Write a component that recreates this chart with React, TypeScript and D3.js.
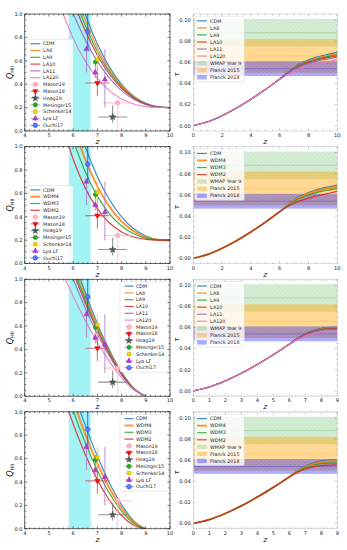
import React from "react";
import * as d3 from "d3";

// ---------------- data ----------------
// Q_HII(z) curves, z in [4,10] panels
const zQ10 = [5.5, 6.0, 6.5, 7.0, 7.5, 8.0, 8.5, 9.0, 9.5, 10.0];
const qCDM10 = [1.68, 1.305, 0.996, 0.743, 0.546, 0.399, 0.298, 0.236, 0.206, 0.2];
const qLA8_10 = [1.589, 1.238, 0.947, 0.71, 0.525, 0.387, 0.292, 0.234, 0.206, 0.2];
const qLA9_10 = [1.503, 1.173, 0.901, 0.678, 0.505, 0.376, 0.286, 0.232, 0.206, 0.2];
const qLA10_10 = [1.421, 1.112, 0.856, 0.648, 0.485, 0.365, 0.281, 0.23, 0.205, 0.2];
const qLA11_10 = [1.277, 1.004, 0.779, 0.595, 0.452, 0.345, 0.271, 0.226, 0.205, 0.2];
const qLA120_10 = [1.045, 0.793, 0.597, 0.45, 0.345, 0.274, 0.231, 0.209, 0.201, 0.2];
const qWDM4_10 = [1.542, 1.181, 0.891, 0.66, 0.486, 0.36, 0.277, 0.227, 0.204, 0.2];
const qWDM3_10 = [1.404, 1.057, 0.785, 0.577, 0.426, 0.322, 0.255, 0.218, 0.203, 0.2];
const qWDM2_10 = [1.22, 0.892, 0.645, 0.467, 0.347, 0.27, 0.227, 0.207, 0.2007, 0.2];

// Q_HII(z) curves ending at z = 9
const zQ9 = [5.5, 6.0, 6.5, 7.0, 7.5, 8.0, 8.5, 9.0];
const qCDM9 = [1.51, 1.18, 0.884, 0.62, 0.392, 0.206, 0.068, 0];
const qLA8_9 = [1.458, 1.141, 0.855, 0.601, 0.38, 0.2, 0.066, 0];
const qLA9_9 = [1.407, 1.102, 0.827, 0.581, 0.369, 0.195, 0.065, 0];
const qLA10_9 = [1.355, 1.063, 0.798, 0.562, 0.357, 0.189, 0.063, 0];
const qLA11_9 = [1.274, 1.001, 0.753, 0.531, 0.339, 0.18, 0.061, 0];
const qLA120_9 = [1.08, 0.854, 0.646, 0.459, 0.296, 0.159, 0.055, 0];
const qWDM4_9 = [1.416, 1.095, 0.81, 0.559, 0.347, 0.178, 0.057, 0];
const qWDM3_9 = [1.322, 1.01, 0.735, 0.499, 0.303, 0.151, 0.046, 0];
const qWDM2_9 = [1.197, 0.896, 0.636, 0.418, 0.243, 0.114, 0.031, 0];

// optical depth tau(z)
const zTau10 = [0, 1, 2, 3, 4, 5, 5.5, 6, 6.5, 7, 7.5, 8, 8.5, 9, 9.5, 10];
const tCDM10 = [0, 0.0037, 0.0095, 0.0167, 0.025, 0.0342, 0.0391, 0.0442, 0.05, 0.0553, 0.0593, 0.0623, 0.0646, 0.0664, 0.0679, 0.0694];
const tLA8_10 = [0, 0.0037, 0.0095, 0.0167, 0.025, 0.0342, 0.0391, 0.0442, 0.0497, 0.0548, 0.0586, 0.0615, 0.0637, 0.0654, 0.0668, 0.0683];
const tLA9_10 = [0, 0.0037, 0.0095, 0.0167, 0.025, 0.0342, 0.0391, 0.0442, 0.0495, 0.0543, 0.0579, 0.0607, 0.0628, 0.0644, 0.0658, 0.0671];
const tLA10_10 = [0, 0.0037, 0.0095, 0.0167, 0.025, 0.0342, 0.0391, 0.0442, 0.0492, 0.0539, 0.0573, 0.0599, 0.0619, 0.0635, 0.0648, 0.0661];
const tLA11_10 = [0, 0.0037, 0.0095, 0.0167, 0.025, 0.0342, 0.0391, 0.0442, 0.049, 0.0533, 0.0566, 0.059, 0.0609, 0.0624, 0.0636, 0.0649];
const tLA120_10 = [0, 0.0037, 0.0095, 0.0167, 0.025, 0.0342, 0.0391, 0.0438, 0.0478, 0.0512, 0.0538, 0.056, 0.0578, 0.0594, 0.0609, 0.0624];
const tWDM4_10 = [0, 0.0037, 0.0095, 0.0167, 0.025, 0.0342, 0.0391, 0.0442, 0.0497, 0.0546, 0.0584, 0.0612, 0.0634, 0.0651, 0.0665, 0.0679];
const tWDM3_10 = [0, 0.0037, 0.0095, 0.0167, 0.025, 0.0342, 0.0391, 0.0441, 0.0492, 0.0539, 0.0573, 0.0599, 0.0619, 0.0635, 0.0648, 0.0661];
const tWDM2_10 = [0, 0.0037, 0.0095, 0.0167, 0.025, 0.0342, 0.0391, 0.044, 0.0485, 0.0521, 0.0548, 0.057, 0.0588, 0.0603, 0.0618, 0.0633];

const zTau9 = [0, 1, 2, 3, 4, 5, 5.5, 6, 6.5, 7, 7.5, 8, 8.5, 9];
const tCDM9 = [0, 0.0037, 0.0095, 0.0167, 0.025, 0.0342, 0.0391, 0.0442, 0.0497, 0.0542, 0.0573, 0.0592, 0.0601, 0.0603];
const tLA8_9 = [0, 0.0037, 0.0095, 0.0167, 0.025, 0.0342, 0.0391, 0.0442, 0.0496, 0.0538, 0.0569, 0.0588, 0.0597, 0.0599];
const tLA9_9 = [0, 0.0037, 0.0095, 0.0167, 0.025, 0.0342, 0.0391, 0.0442, 0.0494, 0.0536, 0.0566, 0.0583, 0.0592, 0.0594];
const tLA10_9 = [0, 0.0037, 0.0095, 0.0167, 0.025, 0.0342, 0.0391, 0.0442, 0.0493, 0.0533, 0.0562, 0.0579, 0.0588, 0.059];
const tLA11_9 = [0, 0.0037, 0.0095, 0.0167, 0.025, 0.0342, 0.0391, 0.0442, 0.0491, 0.0529, 0.0556, 0.0574, 0.0582, 0.0583];
const tLA120_9 = [0, 0.0037, 0.0095, 0.0167, 0.025, 0.0342, 0.0391, 0.044, 0.0484, 0.0517, 0.054, 0.0555, 0.0562, 0.0564];
const tWDM4_9 = [0, 0.0037, 0.0095, 0.0167, 0.025, 0.0342, 0.0391, 0.0442, 0.0493, 0.0534, 0.0562, 0.0579, 0.0587, 0.0588];
const tWDM3_9 = [0, 0.0037, 0.0095, 0.0167, 0.025, 0.0342, 0.0391, 0.0441, 0.0489, 0.0526, 0.0551, 0.0566, 0.0572, 0.0574];
const tWDM2_9 = [0, 0.0037, 0.0095, 0.0167, 0.025, 0.0342, 0.0391, 0.044, 0.0484, 0.0516, 0.0536, 0.0548, 0.0553, 0.0554];

const laNames = ["CDM", "LA8", "LA9", "LA10", "LA11", "LA120"];
const wdmNames = ["CDM", "WDM4", "WDM3", "WDM2"];

// observational constraints
const obsLabels = ["Mason19", "Mason18", "Hoag19", "Mesinger15", "Schenker14", "Lyα LF", "Ouchi17"];
const obsZ = [[7.84], [7.0], [7.63], [6.92], [7.0], [6.55, 6.91, 7.31], [6.6]];
const obsQ = [[0.24], [0.41], [0.12], [0.59], [0.61], [0.7, 0.5, 0.44], [0.85]];
const obsZErr = [[0.6], [0.5], [0.6], [0], [0], [0, 0, 0], [0]];
const obsQErrLo = [[0.22], [0.11], [0.05], [0.04], [0.11], [0.2, 0.05, 0.24], [0.15]];
const obsQErrHi = [[0], [0.15], [0.1], [0.04], [0.09], [0.03, 0.05, 0.26], [0.15]];

// CMB optical depth constraints
const cmbLabels = ["WMAP Year 9", "Planck 2015", "Planck 2018"];
const cmbTau = [0.088, 0.066, 0.054];
const cmbErr = [0.013, 0.016, 0.007];

// end of reionization band (z)
const reionBand = [5.82, 6.72];

// ---------------- styles ----------------
const laColors = ["#1f77b4", "#ff7f0e", "#2ca02c", "#d62728", "#9467bd", "#e377c2"];
const wdmColors = ["#1f77b4", "#ff7f0e", "#2ca02c", "#d62728"];
const wdmWidths = [1.2, 1.9, 1.2, 1.2];
const obsStyle = [
  { shape: "circle", fill: "#ffb3c4", stroke: "#ff9db3", err: "#ffb6c8", size: 17 },
  { shape: "tri_down", fill: "#ee1111", stroke: "#cc0000", err: "#d04848", size: 12 },
  { shape: "star", fill: "#555555", stroke: "#444444", err: "#707070", size: 14 },
  { shape: "hex", fill: "#22aa22", stroke: "#118811", err: "#44aa44", size: 14 },
  { shape: "square", fill: "#f2d40c", stroke: "#c9a400", err: "#e6c95a", size: 12 },
  { shape: "tri_up", fill: "#b43ccf", stroke: "#9a2ab8", err: "#a874c8", size: 12 },
  { shape: "circle", fill: "#5d7cff", stroke: "#1f2ff0", err: "#2040ff", size: 16 },
];
const cmbColors = ["#2ca02c", "#ffa500", "#0000ff"];
const cmbOpac = [0.2, 0.42, 0.3];

const W = 347;
const H = 550;
const rowTop = [14, 146.6, 279.2, 411.8];
const panelH = 117;
const LX0 = 24.8, LX1 = 170;
const RX0 = 193.3, RX1 = 337.3;
const FONT = "DejaVu Sans, sans-serif";
const tickFs = 5.1;
const legFs = 4.8;

function markerPath(shape: string, size: number): string {
  if (shape === "circle") return d3.symbol(d3.symbolCircle, size)() as string;
  if (shape === "tri_up" || shape === "tri_down") return d3.symbol(d3.symbolTriangle, size)() as string;
  if (shape === "star") return d3.symbol(d3.symbolStar, size)() as string;
  if (shape === "square") return d3.symbol(d3.symbolSquare, size)() as string;
  const r = Math.sqrt(size / 2.6);
  const pts = d3.range(6).map((i) => {
    const a = (Math.PI / 3) * i + Math.PI / 6;
    return [r * Math.cos(a), r * Math.sin(a)];
  });
  return "M" + pts.map((p) => p.join(",")).join("L") + "Z";
}

function Marker({ x, y, st }: any) {
  const rot = st.shape === "tri_down" ? 180 : 0;
  return (
    <path
      d={markerPath(st.shape, st.size)}
      transform={`translate(${x},${y}) rotate(${rot})`}
      fill={st.fill}
      stroke={st.stroke}
      strokeWidth={0.5}
    />
  );
}

type LegItem = { label: string; kind: string; color?: string; width?: number; st?: any; band?: number };

function Legend({ x, y, w, items, spacing, lineX0, lineX1, textX }: any) {
  const h = items.length * spacing + 2;
  return (
    <g>
      <rect x={x} y={y} width={w} height={h} rx={1.5} fill="#ffffff" fillOpacity={0.8} stroke="#d6d6d6" strokeWidth={0.5} />
      {items.map((it: LegItem, i: number) => {
        const cy = y + 1 + spacing * (i + 0.5);
        const lx0 = x + lineX0, lx1 = x + lineX1;
        let handle: any = null;
        if (it.kind === "line") {
          handle = <line x1={lx0} x2={lx1} y1={cy} y2={cy} stroke={it.color} strokeWidth={it.width || 1.2} strokeOpacity={0.85} />;
        } else if (it.kind === "marker") {
          handle = (
            <g>
              <line x1={lx0} x2={lx1} y1={cy} y2={cy} stroke={it.st.err} strokeWidth={1} strokeOpacity={0.6} />
              <line x1={(lx0 + lx1) / 2} x2={(lx0 + lx1) / 2} y1={cy - 2.5} y2={cy + 2.5} stroke={it.st.err} strokeWidth={1} strokeOpacity={0.6} />
              <Marker x={(lx0 + lx1) / 2} y={cy} st={it.st} />
            </g>
          );
        } else {
          const b = it.band as number;
          handle = (
            <g>
              <rect x={lx0} y={cy - 2.2} width={lx1 - lx0} height={4.4} fill={cmbColors[b]} fillOpacity={cmbOpac[b]} />
              {b !== 1 && <rect x={lx0} y={cy - 2.2} width={lx1 - lx0} height={4.4} fill={`url(#hatch${b})`} />}
            </g>
          );
        }
        return (
          <g key={i}>
            {handle}
            <text x={x + textX} y={cy + legFs * 0.36} fontSize={legFs} fill="#222">
              {it.label}
            </text>
          </g>
        );
      })}
    </g>
  );
}

function Ticks({ x, y, xt, xm, yt, ym, top, bottom, left, right, color }: any) {
  const M = 2.6, m = 1.4;
  const els: any[] = [];
  xt.forEach((v: number, i: number) => {
    const px = x(v);
    els.push(<line key={"xt" + i} x1={px} x2={px} y1={bottom} y2={bottom - M} />);
    els.push(<line key={"xT" + i} x1={px} x2={px} y1={top} y2={top + M} />);
  });
  xm.forEach((v: number, i: number) => {
    const px = x(v);
    els.push(<line key={"xm" + i} x1={px} x2={px} y1={bottom} y2={bottom - m} />);
    els.push(<line key={"xM" + i} x1={px} x2={px} y1={top} y2={top + m} />);
  });
  yt.forEach((v: number, i: number) => {
    const py = y(v);
    els.push(<line key={"yt" + i} x1={left} x2={left + M} y1={py} y2={py} />);
    els.push(<line key={"yT" + i} x1={right} x2={right - M} y1={py} y2={py} />);
  });
  ym.forEach((v: number, i: number) => {
    const py = y(v);
    els.push(<line key={"ym" + i} x1={left} x2={left + m} y1={py} y2={py} />);
    els.push(<line key={"yM" + i} x1={right} x2={right - m} y1={py} y2={py} />);
  });
  return (
    <g stroke={color} strokeWidth={0.5}>
      {els}
    </g>
  );
}

const leftRows = [
  { names: laNames, colors: laColors, widths: laNames.map(() => 1.2), z: zQ10, q: [qCDM10, qLA8_10, qLA9_10, qLA10_10, qLA11_10, qLA120_10], legend: "ll" },
  { names: wdmNames, colors: wdmColors, widths: wdmWidths, z: zQ10, q: [qCDM10, qWDM4_10, qWDM3_10, qWDM2_10], legend: "ll" },
  { names: laNames, colors: laColors, widths: laNames.map(() => 1.2), z: zQ9, q: [qCDM9, qLA8_9, qLA9_9, qLA10_9, qLA11_9, qLA120_9], legend: "ur" },
  { names: wdmNames, colors: wdmColors, widths: wdmWidths, z: zQ9, q: [qCDM9, qWDM4_9, qWDM3_9, qWDM2_9], legend: "ur" },
];

const rightRows = [
  { names: laNames, colors: laColors, widths: laNames.map(() => 1.2), z: zTau10, t: [tCDM10, tLA8_10, tLA9_10, tLA10_10, tLA11_10, tLA120_10], zmax: 10, step: 2 },
  { names: wdmNames, colors: wdmColors, widths: wdmWidths, z: zTau10, t: [tCDM10, tWDM4_10, tWDM3_10, tWDM2_10], zmax: 10, step: 2 },
  { names: laNames, colors: laColors, widths: laNames.map(() => 1.2), z: zTau9, t: [tCDM9, tLA8_9, tLA9_9, tLA10_9, tLA11_9, tLA120_9], zmax: 9, step: 1 },
  { names: wdmNames, colors: wdmColors, widths: wdmWidths, z: zTau9, t: [tCDM9, tWDM4_9, tWDM3_9, tWDM2_9], zmax: 9, step: 1 },
];

function LeftPanel({ row }: { row: number }) {
  const cfg = leftRows[row];
  const top = rowTop[row];
  const bottom = top + panelH;
  const x = d3.scaleLinear().domain([4, 10]).range([LX0, LX1]);
  const y = d3.scaleLinear().domain([0, 1]).range([bottom, top]);
  const line = d3
    .line<[number, number]>()
    .x((d) => x(d[0]))
    .y((d) => y(d[1]))
    .curve(d3.curveMonotoneX);
  const clip = `clipL${row}`;
  const xt = d3.range(4, 10.001, 1);
  const xm = d3.range(4, 10.001, 0.2).filter((v) => Math.abs(v - Math.round(v)) > 1e-6);
  const yt = d3.range(0, 1.0001, 0.2);
  const ym = d3.range(0, 1.0001, 0.05).filter((v) => Math.abs(v * 5 - Math.round(v * 5)) > 1e-6);

  const legItems: LegItem[] = [
    ...cfg.names.map((n, i) => ({ label: n, kind: "line", color: cfg.colors[i], width: cfg.widths[i] })),
    ...obsLabels.map((n, i) => ({ label: n, kind: "marker", st: obsStyle[i] })),
  ];
  const sp = 6.8;
  const legH = legItems.length * sp + 2;
  const legend =
    cfg.legend === "ll" ? (
      <Legend x={26.3} y={bottom - 1.3 - legH} w={47} items={legItems} spacing={sp} lineX0={4} lineX1={14} textX={16.8} />
    ) : (
      <Legend x={120} y={top + 2.5} w={48.5} items={legItems} spacing={sp} lineX0={4.5} lineX1={13.5} textX={16} />
    );

  return (
    <g>
      <defs>
        <clipPath id={clip}>
          <rect x={LX0} y={top} width={LX1 - LX0} height={panelH} />
        </clipPath>
      </defs>
      <g clipPath={`url(#${clip})`}>
        <rect x={x(reionBand[0])} y={top} width={x(reionBand[1]) - x(reionBand[0])} height={panelH} fill="#a3f3f5" />
        {cfg.q.map((vals, i) => (
          <path
            key={i}
            d={line(cfg.z.map((z, k) => [z, vals[k]]) as [number, number][]) as string}
            fill="none"
            stroke={cfg.colors[i]}
            strokeWidth={cfg.widths[i]}
            strokeOpacity={0.85}
          />
        ))}
        {obsLabels.map((lab, i) => (
          <g key={lab}>
            {obsZ[i].map((z, k) => {
              const st = obsStyle[i];
              const q = obsQ[i][k];
              return (
                <g key={k}>
                  {obsZErr[i][k] > 0 && (
                    <line x1={x(z - obsZErr[i][k])} x2={x(z + obsZErr[i][k])} y1={y(q)} y2={y(q)} stroke={st.err} strokeWidth={1.1} strokeOpacity={0.75} />
                  )}
                  <line x1={x(z)} x2={x(z)} y1={y(q - obsQErrLo[i][k])} y2={y(q + obsQErrHi[i][k])} stroke={st.err} strokeWidth={1.1} strokeOpacity={0.75} />
                </g>
              );
            })}
          </g>
        ))}
        {obsLabels.map((lab, i) => (
          <g key={lab + "m"}>
            {obsZ[i].map((z, k) => (
              <Marker key={k} x={x(z)} y={y(obsQ[i][k])} st={obsStyle[i]} />
            ))}
          </g>
        ))}
      </g>
      {legend}
      <rect x={LX0} y={top} width={LX1 - LX0} height={panelH} fill="none" stroke="#000" strokeWidth={0.6} />
      <Ticks x={x} y={y} xt={xt} xm={xm} yt={yt} ym={ym} top={top} bottom={bottom} left={LX0} right={LX1} color="#000" />
      {xt.map((v) => (
        <text key={"xl" + v} x={x(v)} y={bottom + 6} fontSize={tickFs} textAnchor="middle" fill="#222">
          {d3.format("d")(v)}
        </text>
      ))}
      {yt.map((v) => (
        <text key={"yl" + v} x={LX0 - 2.3} y={y(v) + tickFs * 0.36} fontSize={tickFs} textAnchor="end" fill="#222">
          {d3.format(".1f")(v)}
        </text>
      ))}
      <text x={(LX0 + LX1) / 2} y={bottom + 13} fontSize={7.5} fontStyle="italic" textAnchor="middle" fill="#111">
        z
      </text>
      <text transform={`translate(${12.5},${top + panelH / 2}) rotate(-90)`} fontSize={8} textAnchor="middle" fill="#111">
        <tspan fontStyle="italic">Q</tspan>
        <tspan fontSize={5} dy={1.8}>HII</tspan>
      </text>
    </g>
  );
}

function RightPanel({ row }: { row: number }) {
  const cfg = rightRows[row];
  const top = rowTop[row];
  const bottom = top + panelH;
  const x = d3.scaleLinear().domain([0, cfg.zmax]).range([RX0, RX1]);
  const y = d3.scaleLinear().domain([-0.005, 0.1057]).range([bottom, top]);
  const line = d3
    .line<[number, number]>()
    .x((d) => x(d[0]))
    .y((d) => y(d[1]))
    .curve(d3.curveMonotoneX);
  const clip = `clipR${row}`;
  const xt = d3.range(0, cfg.zmax + 0.001, cfg.step);
  const mstep = cfg.step === 2 ? 0.5 : 0.2;
  const xm = d3.range(0, cfg.zmax + 0.001, mstep).filter((v) => Math.abs(v / cfg.step - Math.round(v / cfg.step)) > 1e-6);
  const yt = d3.range(0, 0.1001, 0.02);
  const ym = d3.range(0, 0.1051, 0.005).filter((v) => Math.abs(v / 0.02 - Math.round(v / 0.02)) > 1e-6);

  const legItems: LegItem[] = [
    ...cfg.names.map((n, i) => ({ label: n, kind: "line", color: cfg.colors[i], width: cfg.widths[i] })),
    ...cmbLabels.map((n, i) => ({ label: n, kind: "band", band: i })),
  ];

  return (
    <g>
      <defs>
        <clipPath id={clip}>
          <rect x={RX0} y={top} width={RX1 - RX0} height={panelH} />
        </clipPath>
      </defs>
      <g clipPath={`url(#${clip})`}>
        {cmbLabels.map((lab, i) => {
          const y0 = y(cmbTau[i] + cmbErr[i]);
          const y1 = y(cmbTau[i] - cmbErr[i]);
          return (
            <g key={lab}>
              <rect x={RX0} y={y0} width={RX1 - RX0} height={y1 - y0} fill={cmbColors[i]} fillOpacity={cmbOpac[i]} />
              {i !== 1 && <rect x={RX0} y={y0} width={RX1 - RX0} height={y1 - y0} fill={`url(#hatch${i})`} />}
              <line x1={RX0} x2={RX1} y1={y(cmbTau[i])} y2={y(cmbTau[i])} stroke={cmbColors[i]} strokeOpacity={0.3} strokeWidth={0.8} />
            </g>
          );
        })}
        {cfg.t.map((vals, i) => (
          <path
            key={i}
            d={line(cfg.z.map((z, k) => [z, vals[k]]) as [number, number][]) as string}
            fill="none"
            stroke={cfg.colors[i]}
            strokeWidth={cfg.widths[i]}
            strokeOpacity={0.9}
          />
        ))}
      </g>
      <Legend x={194.8} y={top + 2.3} w={49.5} items={legItems} spacing={7.05} lineX0={2.3} lineX1={12} textX={15.3} />
      <rect x={RX0} y={top} width={RX1 - RX0} height={panelH} fill="none" stroke="#c8c8c8" strokeWidth={0.6} />
      <Ticks x={x} y={y} xt={xt} xm={xm} yt={yt} ym={ym} top={top} bottom={bottom} left={RX0} right={RX1} color="#999" />
      {xt.map((v) => (
        <text key={"xl" + v} x={x(v)} y={bottom + 6.2} fontSize={tickFs} textAnchor="middle" fill="#222">
          {d3.format("d")(v)}
        </text>
      ))}
      {yt.map((v) => (
        <text key={"yl" + v} x={RX0 - 2.6} y={y(v) + tickFs * 0.36} fontSize={tickFs} textAnchor="end" fill="#222">
          {d3.format(".2f")(v)}
        </text>
      ))}
      <text x={(RX0 + RX1) / 2} y={bottom + 13} fontSize={7.5} fontStyle="italic" textAnchor="middle" fill="#111">
        z
      </text>
      <text transform={`translate(${178.5},${top + panelH / 2 + 2}) rotate(-90)`} fontSize={7} fontStyle="italic" textAnchor="middle" fill="#111">
        τ
      </text>
    </g>
  );
}

export default function App() {
  return (
    <svg
      width={W}
      height={H}
      viewBox={`0 0 ${W} ${H}`}
      style={{ position: "absolute", left: 0, top: 0, background: "#ffffff" }}
      fontFamily={FONT}
    >
      <defs>
        <pattern id="hatch0" width={3} height={3} patternUnits="userSpaceOnUse" patternTransform="rotate(-45)">
          <line x1={0} y1={0} x2={0} y2={3} stroke="#2ca02c" strokeOpacity={0.22} strokeWidth={0.6} />
        </pattern>
        <pattern id="hatch2" width={3} height={3} patternUnits="userSpaceOnUse" patternTransform="rotate(45)">
          <line x1={0} y1={0} x2={0} y2={3} stroke="#0000ff" strokeOpacity={0.18} strokeWidth={0.6} />
          <line x1={0} y1={0} x2={3} y2={0} stroke="#0000ff" strokeOpacity={0.18} strokeWidth={0.6} />
        </pattern>
      </defs>
      <rect x={0} y={0} width={W} height={H} fill="#ffffff" />
      {[0, 1, 2, 3].map((r) => (
        <LeftPanel key={"L" + r} row={r} />
      ))}
      {[0, 1, 2, 3].map((r) => (
        <RightPanel key={"R" + r} row={r} />
      ))}
    </svg>
  );
}
